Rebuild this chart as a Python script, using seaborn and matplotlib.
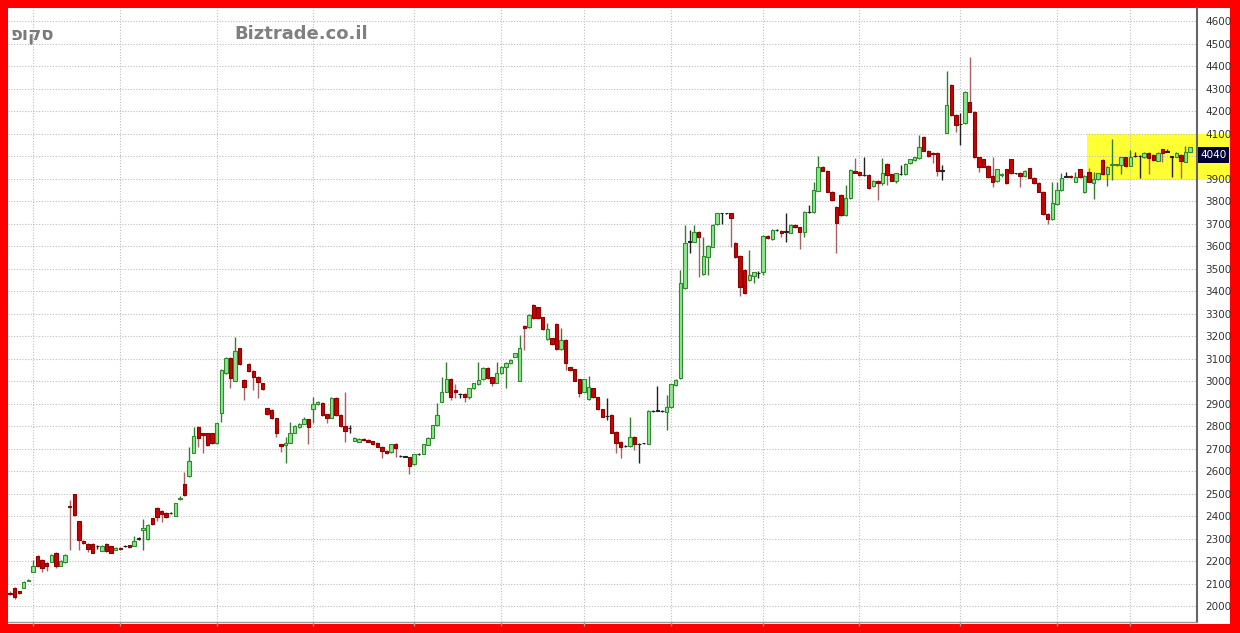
import numpy as np
import pandas as pd
import matplotlib
matplotlib.use("Agg")
import matplotlib.pyplot as plt
import seaborn as sns
from matplotlib.patches import Rectangle
from matplotlib.transforms import blended_transform_factory

# ---------------- data ----------------
opens = [2060, 2080, 2065, 2080, 2112, 2153, 2222, 2205, 2193, 2197, 2235, 2180, 2195, 2445, 2498, 2378, 2290, 2275, 2275, 2265,
         2245, 2275, 2265, 2250, 2260, 2265, 2270, 2268, 2300, 2338, 2299, 2390, 2437, 2422, 2414, 2414, 2400, 2475, 2542, 2578,
         2681, 2797, 2767, 2767, 2767, 2723, 2859, 3034, 3101, 3001, 3145, 3004, 3074, 3046, 3019, 2990, 2878, 2871, 2834, 2720,
         2715, 2726, 2770, 2794, 2809, 2830, 2874, 2898, 2904, 2852, 2837, 2926, 2849, 2800, 2790, 2735, 2730, 2742, 2738, 2732,
         2726, 2708, 2689, 2683, 2720, 2667, 2664, 2661, 2630, 2676, 2676, 2716, 2748, 2804, 2908, 2952, 3009, 2960, 2941, 2942,
         2927, 2967, 2987, 3007, 3059, 3016, 2992, 3034, 3061, 3078, 3108, 3001, 3244, 3238, 3338, 3327, 3283, 3185, 3190, 3253,
         3141, 3182, 3061, 3052, 3007, 2952, 2918, 2967, 2927, 2874, 2845, 2849, 2775, 2730, 2711, 2711, 2753, 2720, 2723, 2720,
         2866, 2868, 2866, 2864, 2883, 2982, 3012, 3412, 3619, 3619, 3664, 3474, 3552, 3597, 3698, 3745, 3745, 3745, 3615, 3555,
         3493, 3449, 3468, 3480, 3486, 3644, 3630, 3671, 3668, 3664, 3659, 3693, 3683, 3664, 3752, 3752, 3846, 3953, 3935, 3841,
         3775, 3827, 3738, 3812, 3935, 3930, 3915, 3915, 3867, 3890, 3878, 3965, 3918, 3890, 3920, 3920, 3967, 3982, 3990, 4086,
         4024, 4015, 4015, 3935, 4104, 4316, 4182, 4142, 4145, 4241, 4197, 3994, 3985, 3955, 3911, 3889, 3915, 3941, 3985, 3923,
         3926, 3911, 3945, 3904, 3881, 3841, 3742, 3718, 3787, 3849, 3908, 3911, 3886, 3941, 3841, 3930, 3881, 3896, 3982, 3920,
         3960, 3960, 3960, 3994, 3957, 4000, 4000, 3994, 4015, 4004, 3979, 4030, 4019, 3997, 3997, 4004, 3975, 4019]
highs = [2065, 2085, 2068, 2110, 2120, 2205, 2225, 2210, 2195, 2230, 2240, 2205, 2230, 2470, 2500, 2380, 2295, 2278, 2278, 2272,
         2270, 2278, 2268, 2262, 2263, 2270, 2273, 2310, 2305, 2387, 2365, 2392, 2440, 2425, 2418, 2418, 2460, 2490, 2597, 2708,
         2794, 2800, 2770, 2770, 2770, 2815, 3052, 3105, 3105, 3194, 3148, 3008, 3078, 3048, 3022, 2993, 2880, 2874, 2837, 2722,
         2752, 2820, 2803, 2812, 2838, 2833, 2927, 2912, 2907, 2855, 2930, 2930, 2852, 2953, 2805, 2750, 2745, 2745, 2741, 2735,
         2730, 2711, 2692, 2722, 2723, 2670, 2667, 2664, 2677, 2680, 2720, 2750, 2806, 2901, 3019, 3083, 3012, 2985, 2945, 2945,
         2970, 2993, 3083, 3062, 3062, 3019, 3083, 3067, 3084, 3096, 3126, 3204, 3247, 3296, 3341, 3330, 3286, 3256, 3193, 3256,
         3234, 3185, 3064, 3055, 3010, 3010, 3022, 2970, 2930, 2877, 2923, 2852, 2778, 2733, 2714, 2841, 2756, 2723, 2726, 2871,
         2870, 2978, 2870, 2937, 2988, 3007, 3493, 3693, 3671, 3693, 3667, 3641, 3604, 3696, 3748, 3748, 3748, 3748, 3618, 3558,
         3496, 3582, 3486, 3490, 3647, 3647, 3674, 3674, 3671, 3745, 3696, 3696, 3686, 3755, 3782, 3886, 4001, 3956, 3938, 3844,
         3778, 3830, 3871, 3941, 3990, 3933, 3997, 3918, 3893, 3893, 3990, 3968, 3921, 3926, 3960, 3968, 3988, 3997, 4093, 4089,
         4027, 4018, 4018, 3960, 4379, 4319, 4185, 4190, 4289, 4438, 4200, 3997, 3988, 3958, 3994, 3944, 3925, 3944, 3988, 3926,
         3929, 3938, 3948, 3907, 3884, 3844, 3745, 3886, 3886, 3926, 3930, 3914, 3930, 3944, 3914, 3945, 3930, 3926, 3985, 3956,
         4074, 3966, 3997, 3997, 4027, 4019, 4003, 4018, 4018, 4007, 4018, 4033, 4030, 4000, 4018, 4007, 4045, 4042]
lows = [2050, 2030, 2055, 2078, 2110, 2150, 2175, 2150, 2155, 2195, 2170, 2178, 2192, 2250, 2400, 2249, 2275, 2240, 2234, 2255,
        2243, 2240, 2234, 2248, 2248, 2262, 2258, 2265, 2295, 2249, 2295, 2360, 2380, 2375, 2390, 2410, 2398, 2470, 2490, 2575,
        2678, 2708, 2678, 2710, 2720, 2720, 2819, 3030, 2967, 2998, 3070, 2916, 3040, 2960, 2925, 2960, 2850, 2830, 2752, 2686,
        2634, 2724, 2768, 2792, 2807, 2720, 2812, 2895, 2846, 2812, 2835, 2846, 2797, 2730, 2768, 2732, 2727, 2735, 2727, 2717,
        2705, 2656, 2675, 2680, 2664, 2664, 2661, 2587, 2627, 2672, 2674, 2714, 2745, 2800, 2905, 2950, 2915, 2925, 2925, 2908,
        2920, 2964, 2984, 3004, 3009, 2980, 2990, 3031, 2970, 3075, 3105, 2998, 3138, 3235, 3275, 3275, 3227, 3182, 3160, 3138,
        3138, 3049, 3046, 2998, 2930, 2950, 2915, 2924, 2871, 2838, 2826, 2767, 2678, 2656, 2708, 2708, 2693, 2637, 2720, 2718,
        2862, 2865, 2863, 2782, 2880, 2980, 3010, 3410, 3567, 3616, 3464, 3471, 3471, 3594, 3695, 3700, 3742, 3594, 3549, 3378,
        3387, 3446, 3437, 3460, 3470, 3631, 3627, 3668, 3640, 3620, 3656, 3680, 3585, 3640, 3749, 3749, 3843, 3932, 3838, 3801,
        3567, 3735, 3735, 3809, 3923, 3912, 3912, 3853, 3864, 3805, 3871, 3870, 3887, 3880, 3917, 3917, 3964, 3979, 3987, 4021,
        3997, 3967, 3911, 3893, 4101, 4179, 4108, 4049, 4142, 4194, 3991, 3930, 3950, 3902, 3861, 3886, 3905, 3875, 3920, 3920,
        3864, 3908, 3901, 3875, 3838, 3739, 3698, 3715, 3784, 3846, 3905, 3902, 3883, 3902, 3834, 3883, 3807, 3893, 3917, 3867,
        3893, 3957, 3920, 3953, 3954, 3997, 3901, 3991, 3922, 3979, 3976, 3975, 4016, 3908, 3994, 3901, 3972, 4016]
closes = [2055, 2040, 2060, 2107, 2115, 2180, 2180, 2170, 2180, 2227, 2180, 2200, 2227, 2438, 2404, 2293, 2280, 2255, 2236, 2265,
          2265, 2245, 2236, 2258, 2252, 2265, 2262, 2290, 2300, 2345, 2362, 2365, 2396, 2410, 2396, 2414, 2457, 2482, 2493, 2644,
          2756, 2745, 2760, 2715, 2726, 2812, 3049, 3101, 3012, 3135, 3075, 2975, 3046, 3016, 2997, 2963, 2853, 2834, 2770, 2711,
          2726, 2770, 2800, 2809, 2830, 2794, 2898, 2908, 2849, 2837, 2926, 2849, 2800, 2779, 2790, 2745, 2742, 2738, 2730, 2720,
          2708, 2689, 2678, 2718, 2704, 2667, 2664, 2624, 2674, 2676, 2718, 2748, 2804, 2849, 2952, 3009, 2930, 2950, 2941, 2927,
          2967, 2990, 3004, 3059, 3012, 2992, 3034, 3064, 3081, 3093, 3123, 3145, 3234, 3293, 3278, 3278, 3230, 3230, 3164, 3141,
          3182, 3081, 3049, 3001, 2948, 3007, 2972, 2927, 2874, 2841, 2845, 2770, 2726, 2708, 2711, 2753, 2718, 2720, 2723, 2868,
          2866, 2868, 2866, 2883, 2985, 3004, 3434, 3615, 3619, 3664, 3639, 3555, 3601, 3693, 3745, 3745, 3745, 3723, 3552, 3416,
          3390, 3471, 3483, 3480, 3644, 3634, 3671, 3671, 3659, 3664, 3693, 3683, 3664, 3752, 3752, 3849, 3953, 3935, 3841, 3804,
          3704, 3738, 3812, 3938, 3926, 3915, 3915, 3856, 3890, 3878, 3923, 3916, 3890, 3923, 3920, 3965, 3985, 3994, 4038, 4024,
          4000, 4009, 3935, 3935, 4227, 4182, 4138, 4142, 4286, 4197, 3994, 3950, 3953, 3905, 3886, 3941, 3920, 3878, 3923, 3923,
          3911, 3935, 3904, 3878, 3841, 3742, 3718, 3790, 3849, 3901, 3908, 3905, 3905, 3905, 3911, 3886, 3896, 3923, 3920, 3953,
          3963, 3963, 3994, 3956, 3994, 4000, 4000, 4015, 3990, 3982, 4015, 4015, 4019, 3997, 4015, 3979, 4019, 4040]

month_starts = [5, 24, 45, 66, 88, 107, 125, 144, 164, 185, 207, 228, 244]   # candle index of each month's first session
price_ticks = list(range(2000, 4700, 100))
hidden_tick = 4000          # covered by the last-price box in the reference
last_price_label = "4040"
symbol_name = "סקופ"
site_name = "Biztrade.co.il"
highlight_low, highlight_high = 3895, 4100
highlight_first_session = 234.6

# ---------------- figure ----------------
df = pd.DataFrame({"open": opens, "high": highs, "low": lows, "close": closes})
df["idx"] = np.arange(len(df))
n = len(df)

sns.set_style("white")
plt.rcParams['font.family'] = ['DejaVu Sans']

W, H = 1240, 633
fig = plt.figure(figsize=(W / 100, H / 100), dpi=100, facecolor='#FF0000')
fig.patches.append(Rectangle((8 / W, 9 / H), (1230 - 8) / W, (625 - 9) / H, transform=fig.transFigure,
                             facecolor='white', edgecolor='none', zorder=-10))
ax = fig.add_axes([8 / W, 11 / H, (1197 - 8) / W, (622 - 8) / H], zorder=1)
ax.set_facecolor('white')

x_min, x_max = -0.44, n - 1 + 1.52
ax.set_xlim(x_min, x_max)
ax.set_ylim(1929, 4658)

up = df["close"] > df["open"]
down = df["close"] < df["open"]

green_fill, green_edge, green_wick = '#8DE88D', '#2E8B2E', '#2F7F2F'
red_fill, red_edge, red_wick = '#CC0000', '#8B0000', '#A86262'
doji_col = '#222222'

wick_colors = np.where(up, green_wick, np.where(down, red_wick, doji_col))
ax.vlines(df["idx"], df["low"], df["high"], colors=wick_colors, linewidth=1.0, zorder=3)

bottoms = np.minimum(df["open"], df["close"])
heights = np.maximum(np.abs(df["close"] - df["open"]), 1.5)
fills = np.where(up, green_fill, np.where(down, red_fill, doji_col))
edges = np.where(up, green_edge, np.where(down, red_edge, doji_col))
ax.bar(df["idx"], heights, bottom=bottoms, width=0.74, color=fills, edgecolor=edges,
       linewidth=0.8, zorder=4)

# highlight band at the right side (extends under the price labels)
px_per_idx = (1197 - 8) / (x_max - x_min)
ax.add_patch(Rectangle((highlight_first_session, highlight_low),
                       (x_max - highlight_first_session) + 33 / px_per_idx,
                       highlight_high - highlight_low,
                       facecolor='#FFFF33', edgecolor='none', clip_on=False, zorder=0.3))

# axes / grid
ax.yaxis.tick_right()
ax.set_yticks(price_ticks)
ax.set_yticklabels(["" if t == hidden_tick else str(t) for t in price_ticks])
ax.set_xticks(month_starts)
ax.set_xticklabels([])
ax.tick_params(axis='y', which='both', labelsize=7.5, colors='#333333', length=4, width=1, pad=2,
               direction='out', right=True, left=False)
ax.tick_params(axis='x', length=3, width=1, colors='#999999', direction='out', bottom=True)
ax.grid(True, color='#BFBFBF', linestyle=(0, (1, 1.5)), linewidth=0.8)
ax.set_axisbelow(True)

sns.despine(ax=ax, left=True, top=True, right=False, bottom=False)
ax.spines['right'].set_color('#666666')
ax.spines['right'].set_linewidth(1.5)
ax.spines['bottom'].set_color('#999999')
ax.spines['bottom'].set_linewidth(1.0)

# last price box
blend = blended_transform_factory(ax.transAxes, ax.transData)
ax.annotate(last_price_label, xy=(1.0, closes[-1]), xycoords=blend, xytext=(2.5, -5.8),
            textcoords='offset points', ha='left', va='center', fontsize=7.5, color='white',
            bbox=dict(boxstyle='square,pad=0.25', facecolor='#000033', edgecolor='none'),
            annotation_clip=False, zorder=6)

# header texts
fig.text(10 / W, 1 - 39 / H, symbol_name[::-1], fontsize=13, fontweight='bold', color='#7A7A7A',
         ha='left', va='baseline', zorder=5)
fig.text(234 / W, 1 - 39 / H, site_name, fontsize=13, fontweight='bold', color='#808080',
         ha='left', va='baseline', zorder=5)

fig.savefig("out.png", dpi=100, facecolor=fig.get_facecolor())
